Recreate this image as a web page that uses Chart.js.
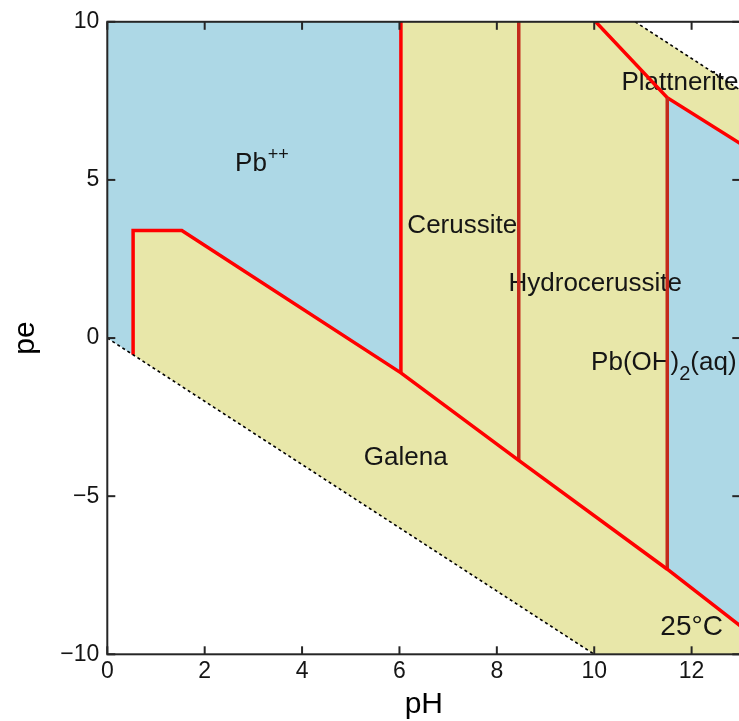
<!DOCTYPE html>
<html>
<head>
<meta charset="utf-8">
<script src="https://cdn.jsdelivr.net/npm/chart.js@4.4.0/dist/chart.umd.min.js"></script>
<style>
  html, body { margin: 0; padding: 0; overflow: hidden; background: #ffffff; }
  canvas { display: block; }
</style>
</head>
<body>
<canvas id="diagram" width="780" height="721"></canvas>
<script>
// Pb predominance diagram (pe vs pH) at 25 °C

// axis ranges and ticks
const PH_RANGE = [0, 13];
const PE_RANGE = [-10, 10];
const xTicks = [0, 2, 4, 6, 8, 10, 12];
const yTicks = [-10, -5, 0, 5, 10];

// boundary lines as [pH, pe] pairs
const galenaBoundary = [[0.53, -0.53], [0.53, 3.40], [1.53, 3.40], [6.03, -1.10], [8.45, -3.87], [11.5, -7.31], [13, -9.10]];
const pbCerussite = [[6.03, -1.10], [6.03, 10]];
const cerussiteHydro = [[8.45, -3.87], [8.45, 10]];
const hydroPbOH2 = [[11.5, -7.31], [11.5, 7.60]];
const plattneriteBoundary = [[10.03, 10], [11.5, 7.60], [13, 6.15]];
const waterLower = [[0, 0], [10, -10]];
const waterUpper = [[10.84, 10], [13, 7.84]];

// field names
const fieldNames = ['Pb', 'Cerussite', 'Hydrocerussite', 'Pb(OH)', 'Galena', 'Plattnerite', '25°C'];

// colours
const AQUEOUS = '#add8e6';
const SOLID = '#e8e7a9';
const OUTSIDE = '#ffffff';
const TEXT = '#151515';
const FONT = '"Liberation Sans", Arial, Helvetica, sans-serif';

// filled fields, built from the boundary lines
const solidFields = [
  galenaBoundary.concat([[13, -10], [0.53, -10]]),
  [pbCerussite[1]].concat(galenaBoundary.slice(3, 6), [hydroPbOH2[1], plattneriteBoundary[0]]),
  plattneriteBoundary.concat([[13, 10]])
];
const outsideFields = [
  waterLower.concat([[0, -10]]),
  waterUpper.concat([[13, 10]])
];

// label anchors (centre of text, in pH / pe units)
const labelAnchors = [
  { text: fieldNames[1], pH: 7.29, pe: 3.55, size: 26 },
  { text: fieldNames[2], pH: 10.02, pe: 1.72, size: 26 },
  { text: fieldNames[4], pH: 6.13, pe: -3.79, size: 26 },
  { text: fieldNames[5], pH: 11.76, pe: 8.07, size: 26 },
  { text: fieldNames[6], pH: 12.0, pe: -9.16, size: 28 }
];
const pbIonAnchor = { pH: 2.95, pe: 5.51 };
const pbHydroxAnchor = { pH: 11.43, pe: -0.79 };

const toPts = arr => arr.map(([x, y]) => ({ x, y }));

const fieldsPlugin = {
  id: 'fields',
  beforeDatasetsDraw(chart) {
    const { ctx, chartArea: a, scales: { x, y } } = chart;
    ctx.save();
    ctx.beginPath();
    ctx.rect(a.left, a.top, a.right - a.left, a.bottom - a.top);
    ctx.clip();
    ctx.fillStyle = AQUEOUS;
    ctx.fillRect(a.left, a.top, a.right - a.left, a.bottom - a.top);
    const poly = (pts, col) => {
      ctx.beginPath();
      pts.forEach(([px, pe], i) => {
        const X = x.getPixelForValue(px), Y = y.getPixelForValue(pe);
        i ? ctx.lineTo(X, Y) : ctx.moveTo(X, Y);
      });
      ctx.closePath();
      ctx.fillStyle = col;
      ctx.fill();
    };
    solidFields.forEach(p => poly(p, SOLID));
    outsideFields.forEach(p => poly(p, OUTSIDE));

    // field labels
    ctx.fillStyle = TEXT;
    ctx.textBaseline = 'middle';
    ctx.textAlign = 'center';
    labelAnchors.forEach(l => {
      ctx.font = l.size + 'px ' + FONT;
      ctx.fillText(l.text, x.getPixelForValue(l.pH), y.getPixelForValue(l.pe));
    });

    // Pb++ with superscript
    ctx.textAlign = 'left';
    ctx.font = '26px ' + FONT;
    const pbW = ctx.measureText('Pb').width;
    let cx = x.getPixelForValue(pbIonAnchor.pH), cy = y.getPixelForValue(pbIonAnchor.pe);
    ctx.fillText('Pb', cx - pbW / 2, cy);
    ctx.font = '18px ' + FONT;
    ctx.fillText('++', cx + pbW / 2 + 1, cy - 9);

    // Pb(OH)2(aq) with subscript
    ctx.font = '26px ' + FONT;
    const w1 = ctx.measureText('Pb(OH)').width;
    const w3 = ctx.measureText('(aq)').width;
    ctx.font = '20px ' + FONT;
    const w2 = ctx.measureText('2').width;
    const total = w1 + w2 + w3;
    cx = x.getPixelForValue(pbHydroxAnchor.pH) - total / 2;
    cy = y.getPixelForValue(pbHydroxAnchor.pe);
    ctx.font = '26px ' + FONT;
    ctx.fillText('Pb(OH)', cx, cy);
    ctx.font = '20px ' + FONT;
    ctx.fillText('2', cx + w1, cy + 11);
    ctx.font = '26px ' + FONT;
    ctx.fillText('(aq)', cx + w1 + w2, cy);
    ctx.restore();
  },
  afterDraw(chart) {
    const { ctx, chartArea: a, scales: { x, y } } = chart;
    ctx.save();
    ctx.strokeStyle = '#262626';
    ctx.lineWidth = 2;
    const seg = (x1, y1, x2, y2) => { ctx.beginPath(); ctx.moveTo(x1, y1); ctx.lineTo(x2, y2); ctx.stroke(); };
    xTicks.forEach(v => {
      const px = x.getPixelForValue(v);
      seg(px, a.bottom, px, a.bottom - 8);
      seg(px, a.top, px, a.top + 8);
    });
    yTicks.forEach(v => {
      const py = y.getPixelForValue(v);
      seg(a.left, py, a.left + 8, py);
      seg(a.right, py, a.right - 8, py);
    });
    ctx.strokeRect(a.left, a.top, a.right - a.left, a.bottom - a.top);
    ctx.restore();
  }
};

const lineStyle = (arr, color, width, dash) => ({
  data: toPts(arr),
  borderColor: color,
  borderWidth: width,
  borderDash: dash || [],
  showLine: true,
  pointRadius: 0,
  fill: false,
  tension: 0
});

const minusFmt = v => (v < 0 ? '\u2212' + Math.abs(v) : String(v));

new Chart(document.getElementById('diagram'), {
  type: 'scatter',
  data: {
    datasets: [
      lineStyle(waterLower, '#000000', 1.6, [3, 3]),
      lineStyle(waterUpper, '#000000', 1.6, [3, 3]),
      lineStyle(galenaBoundary, '#ff0000', 3.5),
      lineStyle(pbCerussite, '#ff0000', 3.5),
      lineStyle(cerussiteHydro, '#c42a1c', 3.5),
      lineStyle(hydroPbOH2, '#c42a1c', 3.5),
      lineStyle(plattneriteBoundary, '#ff0000', 3.5)
    ]
  },
  options: {
    responsive: false,
    animation: false,
    devicePixelRatio: 1,
    layout: { padding: { left: 0, right: 39.7, top: 21, bottom: 0 } },
    plugins: { legend: { display: false }, tooltip: { enabled: false } },
    scales: {
      x: {
        type: 'linear',
        min: PH_RANGE[0],
        max: PH_RANGE[1],
        afterBuildTicks: s => { s.ticks = xTicks.map(v => ({ value: v })); },
        afterFit: s => { s.height = 66.7; },
        grid: { display: false, drawTicks: false },
        border: { display: false },
        ticks: { color: TEXT, font: { family: FONT, size: 23 }, padding: 4, maxRotation: 0, callback: minusFmt },
        title: { display: true, text: 'pH', color: '#000', font: { family: FONT, size: 30, lineHeight: 1.1 }, padding: { top: 0, bottom: 0 } }
      },
      y: {
        type: 'linear',
        min: PE_RANGE[0],
        max: PE_RANGE[1],
        afterBuildTicks: s => { s.ticks = yTicks.map(v => ({ value: v })); },
        afterFit: s => { s.width = 107.3; },
        grid: { display: false, drawTicks: false },
        border: { display: false },
        ticks: { color: TEXT, font: { family: FONT, size: 23 }, padding: 8, callback: minusFmt },
        title: { display: true, text: 'pe', color: '#000', font: { family: FONT, size: 30, lineHeight: 1.1 }, padding: { top: 9.5, bottom: 0 } }
      }
    }
  },
  plugins: [fieldsPlugin]
});
</script>
</body>
</html>
